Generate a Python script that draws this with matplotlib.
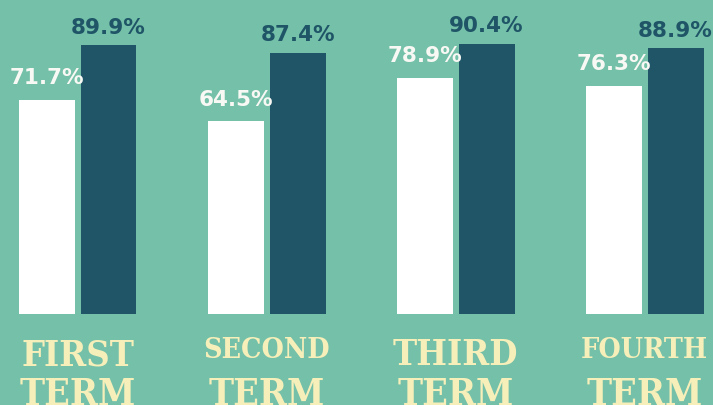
import matplotlib.pyplot as plt
import numpy as np

terms = ["FIRST", "SECOND", "THIRD", "FOURTH"]
white_vals = [71.7, 64.5, 78.9, 76.3]
dark_vals = [89.9, 87.4, 90.4, 88.9]

bg = "#74c0a9"
dark = "#1f5567"
cream = "#f7efb9"

fig = plt.figure(figsize=(7.13, 4.06), dpi=100, facecolor=bg)
ax = fig.add_axes([0, 0, 1, 1])
ax.set_facecolor(bg)

x = np.arange(len(terms))
w = 0.296
off = 0.163
wb = ax.bar(x - off, white_vals, w, color="white")
db = ax.bar(x + off, dark_vals, w, color=dark)

for b, v in zip(wb, white_vals):
    ax.annotate(f"{v}%", (b.get_x() + b.get_width() / 2, v), xytext=(0, 9),
                textcoords="offset points", ha="center", va="bottom",
                fontsize=15.5, fontweight="bold", family="DejaVu Sans", color="#f8f8f4")
for b, v in zip(db, dark_vals):
    ax.annotate(f"{v}%", (b.get_x() + b.get_width() / 2, v), xytext=(0, 6),
                textcoords="offset points", ha="center", va="bottom",
                fontsize=15.5, fontweight="bold", family="DejaVu Sans", color=dark)

# category labels under each pair (two lines, second one cut by the edge like the original)
for xi, t in zip(x, terms):
    long_word = len(t) > 5
    ax.text(xi, -14.4 if long_word else -16.7, t, ha="center", va="baseline",
            fontsize=20.5 if long_word else 26, fontweight="bold",
            family="DejaVu Serif", fontstretch="condensed", color=cream)
    ax.text(xi, -30.0, "TERM", ha="center", va="baseline",
            fontsize=27, fontweight="bold", family="DejaVu Serif",
            fontstretch="condensed", color=cream)

ax.set_xlim(-0.411, 3.361)
ax.set_ylim(-30.4, 105.3)
ax.axis("off")

fig.savefig("out.png", dpi=100, facecolor=bg)
